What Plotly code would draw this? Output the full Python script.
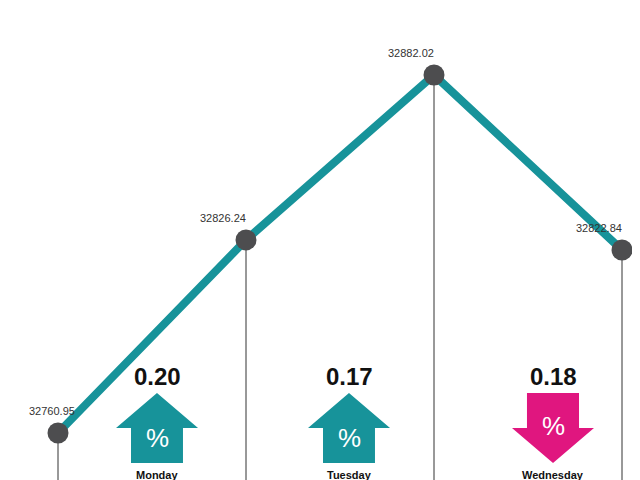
import plotly.graph_objects as go

# index closes shown on the chart
days = ["Friday", "Monday", "Tuesday", "Wednesday"]
closes = [32760.95, 32826.24, 32882.02, 32822.84]
close_labels = ["32760.95", "32826.24", "32882.02", "32822.84"]

# daily moves
move_days = ["Monday", "Tuesday", "Wednesday"]
move_pct = ["0.20", "0.17", "0.18"]
move_dir = ["up", "up", "down"]

TEAL = "#17939a"
MAGENTA = "#e0167f"
W, H = 640, 480

xs = list(range(len(closes)))
y_lo, y_hi = 32742.35, 32904.68

fig = go.Figure()

# thin drop lines from each point to the bottom
for x, y in zip(xs, closes):
    fig.add_trace(go.Scatter(x=[x, x], y=[y_lo, y], mode="lines",
                             line=dict(color="#333333", width=1),
                             hoverinfo="skip", showlegend=False))

fig.add_trace(go.Scatter(
    x=xs, y=closes, mode="lines+markers",
    line=dict(color=TEAL, width=8),
    marker=dict(size=21, color="#4d4d4f"),
    showlegend=False))

for i, (x, y, lab) in enumerate(zip(xs, closes, close_labels)):
    fig.add_annotation(x=x, y=y, text=lab, showarrow=False,
                       xanchor="center" if i == 0 else "right",
                       yanchor="bottom", xshift=-6 if i == 0 else 2, yshift=14,
                       font=dict(family="Liberation Sans", size=11, color="#333"))


def px(x):
    return x / W


def py(y):
    return 1 - y / H


def arrow_path(cx, up):
    if up:
        pts = [(cx, 385), (cx + 41, 420), (cx + 26, 420), (cx + 26, 455),
               (cx - 26, 455), (cx - 26, 420), (cx - 41, 420)]
    else:
        pts = [(cx, 455), (cx + 41, 420), (cx + 26, 420), (cx + 26, 385),
               (cx - 26, 385), (cx - 26, 420), (cx - 41, 420)]
    return "M " + " L ".join(f"{px(a):.4f},{py(b):.4f}" for a, b in pts) + " Z"


centers = [149, 341, 545]
for cx, d, pct, day in zip(centers, move_dir, move_pct, move_days):
    col = TEAL if d == "up" else MAGENTA
    fig.add_shape(type="path", path=arrow_path(cx, d == "up"),
                  xref="paper", yref="paper", fillcolor=col, line=dict(width=0))
    txt = dict(xref="paper", yref="paper", showarrow=False,
               xanchor="center", yanchor="middle")
    fig.add_annotation(x=px(cx), y=py(430 if d == "up" else 418), text="%",
                       font=dict(family="Liberation Sans", size=26, color="white"), **txt)
    fig.add_annotation(x=px(cx), y=py(368), text=f"<b>{pct}</b>",
                       font=dict(family="Liberation Sans", size=24, color="#111"), **txt)
    fig.add_annotation(x=px(cx), y=py(467), text=f"<b>{day}</b>",
                       font=dict(family="Liberation Sans", size=11, color="#111"), **txt)

fig.update_layout(
    width=W, height=H, margin=dict(l=0, r=0, t=0, b=0),
    paper_bgcolor="white", plot_bgcolor="white",
    xaxis=dict(range=[-50 / 188, 3 + 26 / 188], visible=False, fixedrange=True),
    yaxis=dict(range=[y_lo, y_hi], visible=False, fixedrange=True),
)

fig.write_html("out.html")
